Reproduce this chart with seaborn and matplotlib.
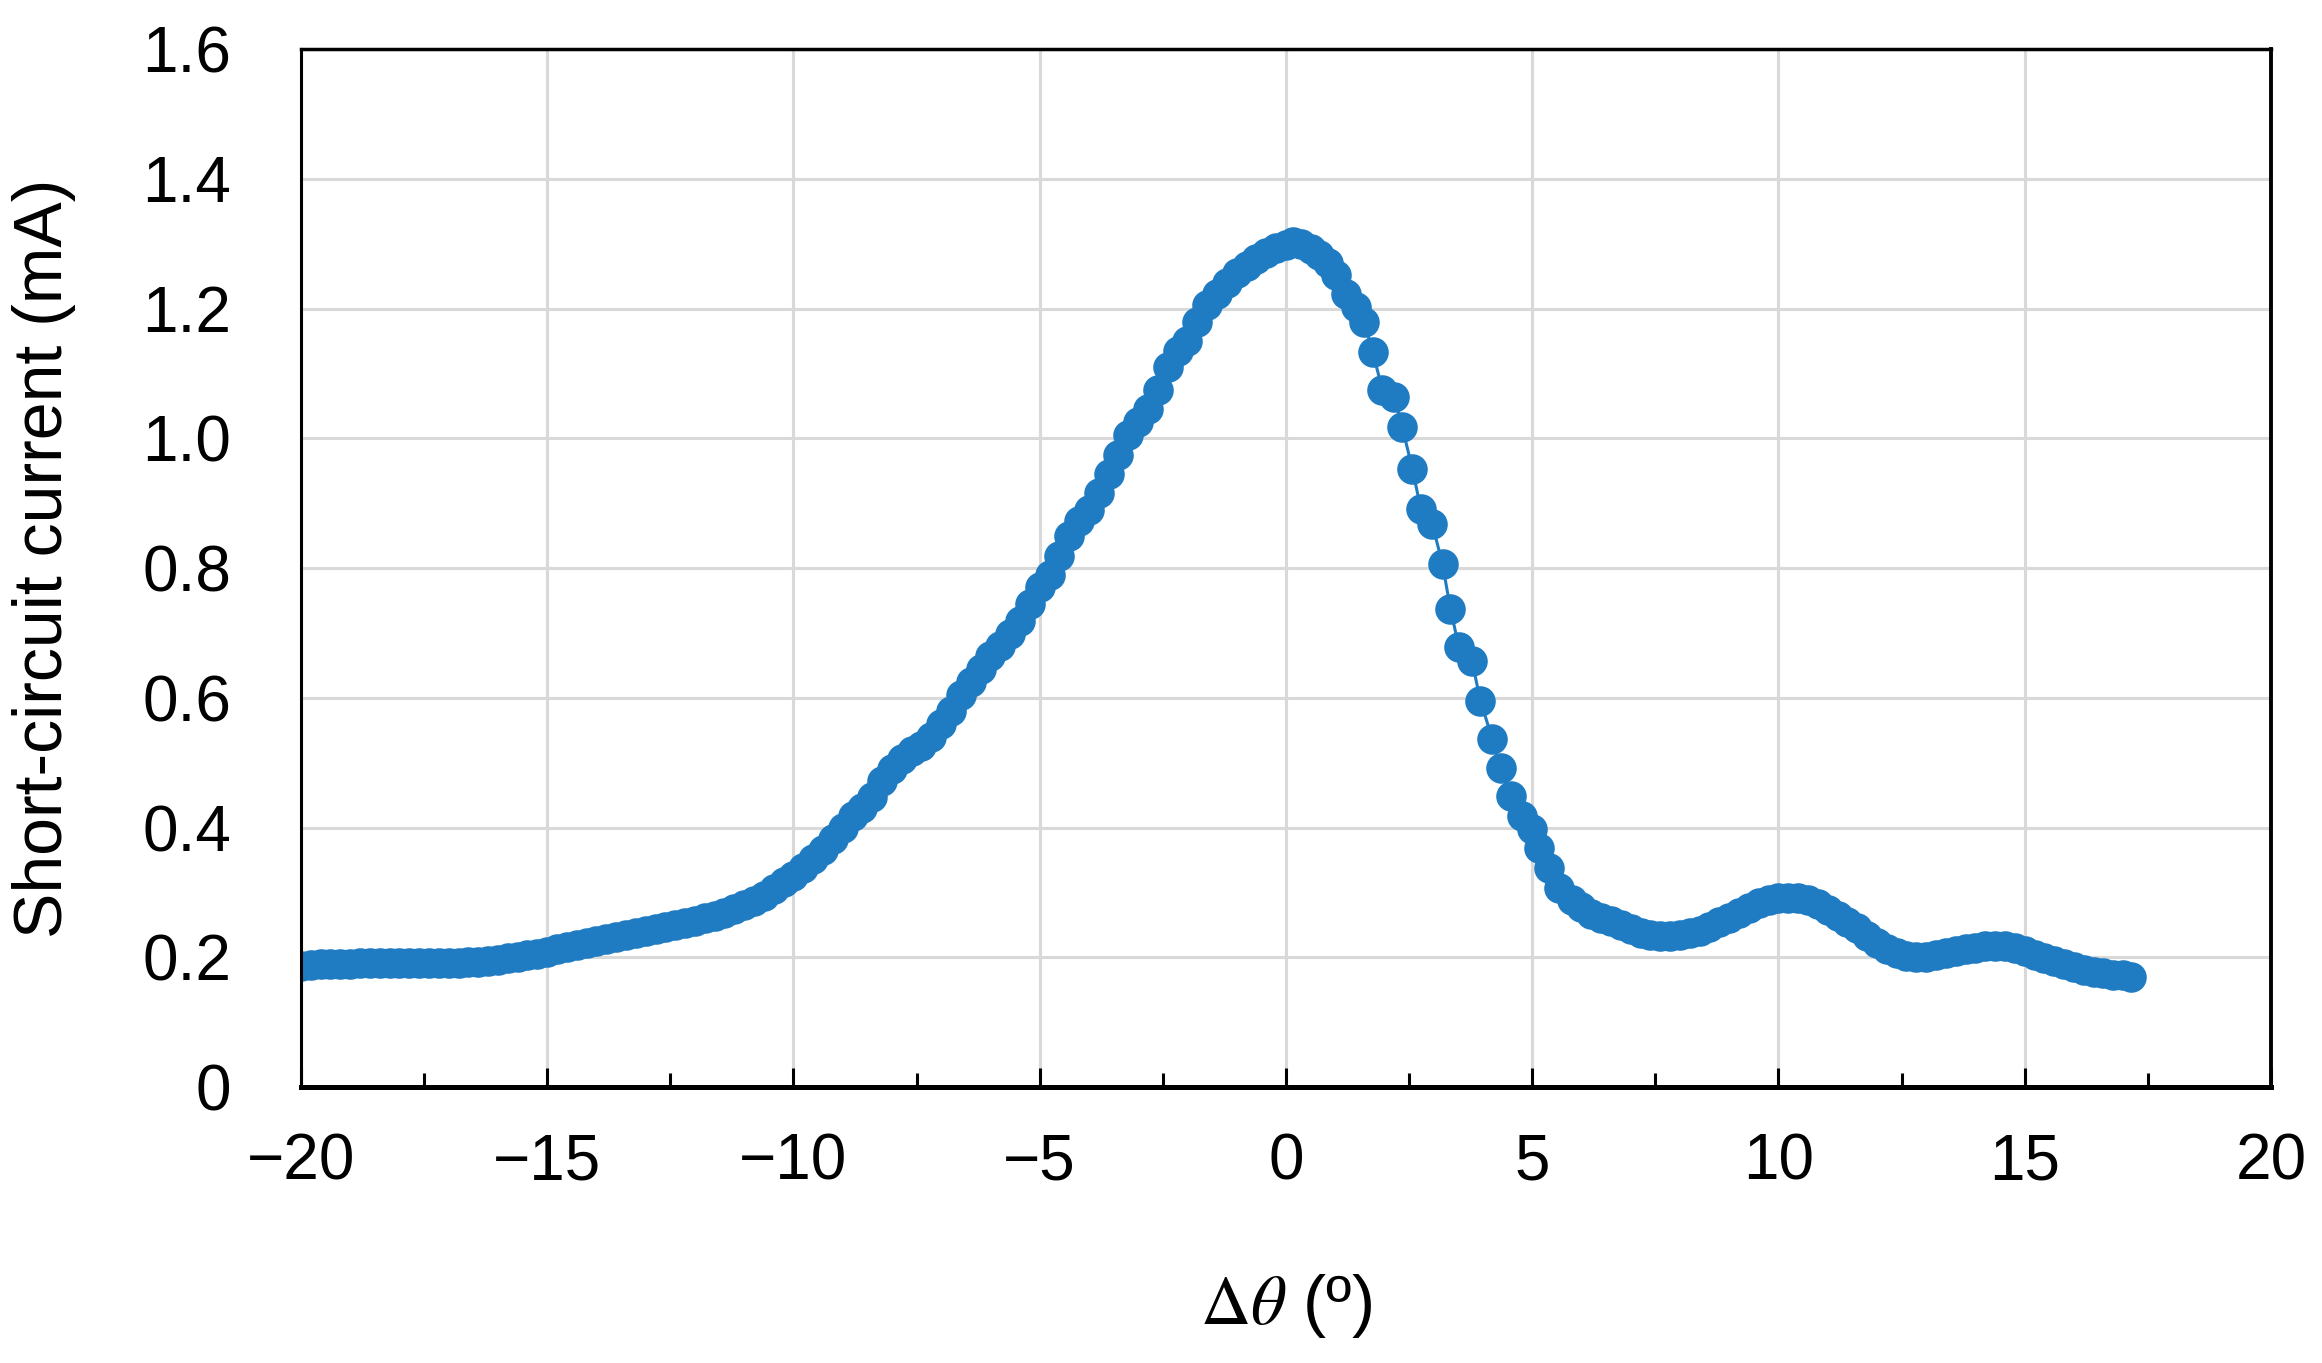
import matplotlib
matplotlib.use("Agg")
import matplotlib.pyplot as plt
import matplotlib.ticker as mticker
import seaborn as sns
import pandas as pd

# ---------------- data ----------------
theta_rise = [-20.0, -19.8, -19.6, -19.4, -19.2, -19.0, -18.8, -18.6, -18.4, -18.2,
              -18.0, -17.8, -17.6, -17.4, -17.2, -17.0, -16.8, -16.6, -16.4, -16.2,
              -16.0, -15.8, -15.6, -15.4, -15.2, -15.0, -14.8, -14.6, -14.4, -14.2,
              -14.0, -13.8, -13.6, -13.4, -13.2, -13.0, -12.8, -12.6, -12.4, -12.2,
              -12.0, -11.8, -11.6, -11.4, -11.2, -11.0, -10.8, -10.6, -10.4, -10.2,
              -10.0, -9.8, -9.6, -9.4, -9.2, -9.0, -8.8, -8.6, -8.4, -8.2,
              -8.0, -7.8, -7.6, -7.4, -7.2, -7.0, -6.8, -6.6, -6.4, -6.2,
              -6.0, -5.8, -5.6, -5.4, -5.2, -5.0, -4.8, -4.6, -4.4, -4.2,
              -4.0, -3.8, -3.6, -3.4, -3.2, -3.0, -2.8, -2.6, -2.4, -2.2,
              -2.0, -1.8, -1.6, -1.4, -1.2, -1.0, -0.8, -0.6, -0.4, -0.2, 0.0]
current_rise = [0.186, 0.188, 0.189, 0.189, 0.190, 0.190, 0.191, 0.191, 0.191, 0.191,
                0.191, 0.191, 0.191, 0.191, 0.191, 0.191, 0.191, 0.192, 0.193, 0.194,
                0.196, 0.199, 0.201, 0.203, 0.205, 0.208, 0.212, 0.216, 0.219, 0.222,
                0.225, 0.228, 0.231, 0.234, 0.237, 0.240, 0.244, 0.247, 0.250, 0.253,
                0.256, 0.260, 0.264, 0.268, 0.274, 0.280, 0.287, 0.295, 0.305, 0.316,
                0.326, 0.338, 0.352, 0.366, 0.382, 0.400, 0.418, 0.430, 0.447, 0.472,
                0.490, 0.505, 0.518, 0.525, 0.540, 0.560, 0.580, 0.605, 0.625, 0.645,
                0.665, 0.680, 0.698, 0.718, 0.745, 0.770, 0.790, 0.818, 0.850, 0.872,
                0.890, 0.915, 0.945, 0.975, 1.005, 1.025, 1.045, 1.075, 1.110, 1.135,
                1.150, 1.180, 1.205, 1.222, 1.240, 1.255, 1.265, 1.276, 1.286, 1.294, 1.298]

theta_fall = [0.14, 0.3, 0.5, 0.68, 0.85, 1.01, 1.22, 1.42, 1.59, 1.76,
              1.96, 2.2, 2.36, 2.57, 2.74, 2.97, 3.18, 3.34, 3.51, 3.78,
              3.95, 4.19, 4.36, 4.56, 4.8, 5.0, 5.14, 5.34, 5.54]
current_fall = [1.302, 1.300, 1.292, 1.283, 1.270, 1.252, 1.222, 1.202, 1.179, 1.133,
                1.075, 1.064, 1.018, 0.952, 0.891, 0.868, 0.806, 0.737, 0.679, 0.656,
                0.595, 0.537, 0.491, 0.448, 0.418, 0.398, 0.368, 0.337, 0.306]

theta_tail = [5.8, 6.0, 6.2, 6.4, 6.6, 6.8, 7.0, 7.2, 7.4, 7.6,
              7.8, 8.0, 8.2, 8.4, 8.6, 8.8, 9.0, 9.2, 9.4, 9.6,
              9.8, 10.0, 10.2, 10.4, 10.6, 10.8, 11.0, 11.2, 11.4, 11.6,
              11.8, 12.0, 12.2, 12.4, 12.6, 12.8, 13.0, 13.2, 13.4, 13.6,
              13.8, 14.0, 14.2, 14.4, 14.6, 14.8, 15.0, 15.2, 15.4, 15.6,
              15.8, 16.0, 16.2, 16.4, 16.6, 16.8, 17.0, 17.15]
current_tail = [0.288, 0.278, 0.267, 0.261, 0.256, 0.250, 0.244, 0.238, 0.235, 0.233,
                0.232, 0.234, 0.237, 0.241, 0.247, 0.254, 0.261, 0.268, 0.276, 0.283,
                0.288, 0.291, 0.292, 0.291, 0.288, 0.282, 0.273, 0.264, 0.255, 0.245,
                0.233, 0.222, 0.213, 0.206, 0.202, 0.200, 0.201, 0.203, 0.206, 0.209,
                0.212, 0.215, 0.217, 0.218, 0.217, 0.214, 0.209, 0.204, 0.199, 0.194,
                0.189, 0.185, 0.181, 0.178, 0.175, 0.173, 0.172, 0.170]

x_ticks = [-20, -15, -10, -5, 0, 5, 10, 15, 20]
y_ticks = [0.0, 0.2, 0.4, 0.6, 0.8, 1.0, 1.2, 1.4, 1.6]
x_label = r"$\Delta\theta$ (º)"
y_label = "Short-circuit current (mA)"

df = pd.DataFrame({
    "theta": theta_rise + theta_fall + theta_tail,
    "current": current_rise + current_fall + current_tail,
})

# ---------------- style ----------------
sns.set_theme(style="whitegrid")
plt.rcParams["font.family"] = ["Liberation Sans", "DejaVu Sans"]
plt.rcParams["mathtext.fontset"] = "stix"
plt.rcParams["axes.unicode_minus"] = True
plt.rcParams["text.color"] = "black"
plt.rcParams["axes.labelcolor"] = "black"
plt.rcParams["xtick.color"] = "black"
plt.rcParams["ytick.color"] = "black"

BLUE = "#1f7bc2"

fig = plt.figure(figsize=(23.22, 13.63), dpi=100)
ax = fig.add_axes([0.1296, 0.2025, 0.8484, 0.7615])
ax.set_facecolor("white")

sns.lineplot(data=df, x="theta", y="current", ax=ax, color=BLUE,
             linewidth=2.2, marker="o", markersize=22, markeredgewidth=0,
             markerfacecolor=BLUE, sort=False, estimator=None)

ax.set_xlim(-20, 20)
ax.set_ylim(0, 1.6)
ax.set_xticks(x_ticks)
ax.set_yticks(y_ticks)
ax.xaxis.set_minor_locator(mticker.MultipleLocator(2.5))
ax.yaxis.set_major_formatter(mticker.FuncFormatter(lambda v, p: "0" if abs(v) < 1e-9 else f"{v:.1f}"))
ax.xaxis.set_major_formatter(mticker.FuncFormatter(lambda v, p: f"{int(round(v))}".replace("-", "\u2212")))

ax.grid(True, which="major", color="#d9d9d9", linewidth=2.2)
ax.grid(False, which="minor")
ax.set_axisbelow(True)

for side, lw in (("left", 2.2), ("top", 2.5), ("right", 2.8), ("bottom", 3.6)):
    ax.spines[side].set_visible(True)
    ax.spines[side].set_color("black")
    ax.spines[side].set_linewidth(lw)

ax.tick_params(axis="x", which="major", direction="in", length=14, width=2.2,
               color="black", labelcolor="black", labelsize=46, pad=33, bottom=True, top=False)
ax.tick_params(axis="x", which="minor", direction="in", length=10, width=2.2,
               color="black", bottom=True, top=False)
ax.tick_params(axis="y", which="both", length=0, labelsize=46, labelcolor="black", pad=50, left=True)

ax.set_xlabel(x_label, fontsize=50, color="black")
ax.set_ylabel(y_label, fontsize=49, color="black")
ax.xaxis.set_label_coords(0.5, -0.178)
ax.yaxis.set_label_coords(-0.114, 0.509)

fig.savefig("out.png", dpi=100, facecolor="white")
